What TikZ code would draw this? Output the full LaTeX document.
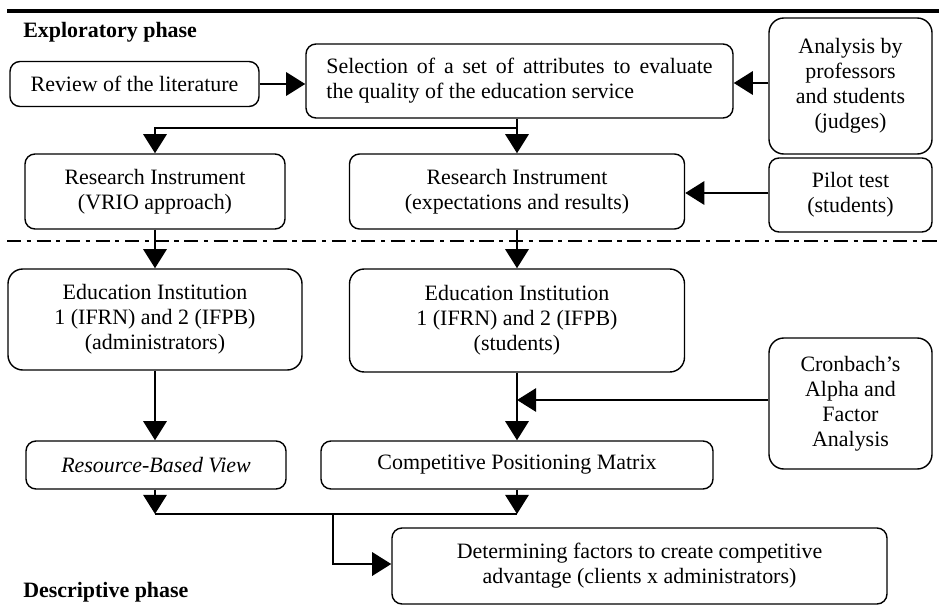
\documentclass[tikz,border=0pt]{standalone}
\usepackage{fontspec}
\setmainfont{Liberation Serif}
\usetikzlibrary{arrows.meta}

\begin{document}
\begin{tikzpicture}[x=0.025cm,y=-0.025cm,font=\fontsize{15.6}{17.8}\selectfont]
		\tikzset{box/.style = {shape=rectangle,draw,rounded corners=0.25cm,line width=1pt,align=center,inner sep=0pt}}
		\tikzset{tallbox/.style = {box,rounded corners=0.37cm}}
		\tikzset{boxsize/.style 2 args = {minimum width=#1*0.025cm,minimum height=#2*0.025cm}}
		\tikzset{edge/.style = {-{Triangle[length=0.48cm,width=0.58cm]},line width=2.1pt}}
		\tikzset{link/.style = {line width=2.1pt}}
		\tikzset{phase/.style = {anchor=base west,inner sep=0pt,font=\fontsize{15.6}{17.8}\selectfont\bfseries}}
		\useasboundingbox (0,0) rectangle (939,612);
		% phases
		\draw[line width=2.4pt] (7,11) -- (939,11);
		\draw[line width=1.2pt,dash pattern=on 10pt off 4pt on 3pt off 4pt] (7,241) -- (939,241);
		\node[phase] (explo) at (23,37) {Exploratory phase};
		\node[phase] (descr) at (23,597) {Descriptive phase};
		% vertices
		\node[box,boxsize={249}{45}] (review) at (134.5,84) {Review of the literature};
		\node[box,boxsize={427}{74},text width=9.65cm,align=justify] (select) at (519.5,81)
			{Selection of a set of attributes to evaluate\linebreak the quality of the education service};
		\node[tallbox,boxsize={163}{136}] (judges) at (850.5,86) {Analysis by\\professors\\and students\\(judges)};
		\node[box,boxsize={260}{75}] (rivrio) at (155,191.5) {Research Instrument\\(VRIO approach)};
		\node[box,boxsize={335}{75}] (riexp) at (517,191.5) {Research Instrument\\(expectations and results)};
		\node[box,boxsize={163}{74}] (pilot) at (850.5,195) {Pilot test\\(students)};
		\node[tallbox,boxsize={294}{101}] (eiadm) at (155,319.5) {Education Institution\\1 (IFRN) and 2 (IFPB)\\(administrators)};
		\node[tallbox,boxsize={335}{103}] (eistu) at (517,320.5) {Education Institution\\1 (IFRN) and 2 (IFPB)\\(students)};
		\node[tallbox,boxsize={163}{131}] (cronbach) at (850.5,403.5) {Cronbach’s\\Alpha and\\Factor\\Analysis};
		\node[box,boxsize={260}{48}] (rbv) at (156,465) {\textit{Resource-Based View}};
		\node[box,boxsize={392}{48}] (cpm) at (517,465) {Competitive Positioning Matrix};
		\node[box,boxsize={495}{76}] (determ) at (639.5,566) {Determining factors to create competitive\\advantage (clients x administrators)};
		\coordinate (fork) at (517,128);
		\coordinate (joinL) at (155,514);
		\coordinate (joinR) at (517,514);
		\coordinate (merge) at (333,514);
		% edges
		\draw[edge] (review.east) -- (review.east -| select.west);
		\draw[edge] (judges.west |- 0,83) -- (select.east |- 0,83);
		\draw[link] (fork |- select.south) -- (fork);
		\draw[edge] (fork) -- (riexp.north);
		\draw[edge] (fork) -| (rivrio.north);
		\draw[edge] (pilot.west |- 0,193) -- (riexp.east |- 0,193);
		\draw[edge] (rivrio.south) -- (eiadm.north);
		\draw[edge] (riexp.south) -- (eistu.north);
		\draw[edge] (eiadm.south) -- (eiadm.south |- rbv.north);
		\draw[edge] (eistu.south) -- (cpm.north);
		\draw[edge] (cronbach.west |- 0,400) -- (eistu.south |- 0,400);
		\draw[edge] (rbv.south -| joinL) -- (joinL);
		\draw[edge] (cpm.south) -- (joinR);
		\draw[link] (joinL) -- (joinR);
		\draw[edge] (merge) |- (determ.west |- 0,564);
\end{tikzpicture}
\end{document}
